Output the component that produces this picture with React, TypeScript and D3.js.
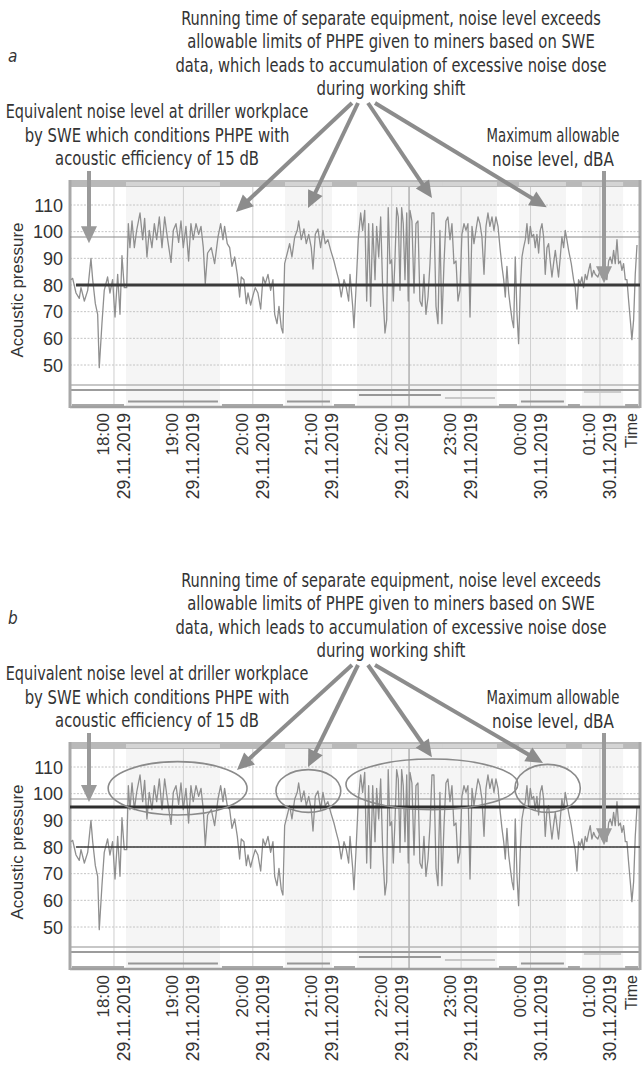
import * as d3 from "d3";
import { useLayoutEffect, useRef, useState } from "react";

// time labels under the hourly grid lines
const tickTimes = ["18:00", "19:00", "20:00", "21:00", "22:00", "23:00", "00:00", "01:00"];
const tickDates = ["29.11.2019", "29.11.2019", "29.11.2019", "29.11.2019", "29.11.2019", "29.11.2019", "30.11.2019", "30.11.2019"];
const yTicks = [50, 60, 70, 80, 90, 100, 110];

const equivalentLevel = 80; // dBA, equivalent level by SWE
const phpeLevel = 95; // level with PHPE, panel b
const refLevel = 98; // thin reference line
const markerMinute = 255; // darker vertical line (minutes after 18:00)

// noise trace: [minutes after 18:00, dBA]
const noiseTrace: [number, number][] = [
  [-37.2, 82], [-35.7, 82.5], [-32.8, 77], [-30, 75], [-28.5, 79], [-25.6, 74], [-22.7, 78], [-19.9, 90],
  [-18.4, 82], [-16.1, 73], [-14.1, 69], [-12.7, 49], [-10.4, 65.5], [-8.4, 78], [-5.5, 83], [-3.5, 77],
  [-1.2, 82], [0.9, 68], [3.2, 84], [5.2, 69], [6.9, 91], [8.9, 79], [11, 79], [12.4, 103], [13.8, 94],
  [15.6, 104], [17.6, 94], [19.6, 100.5], [22.5, 107], [24.8, 97], [26.5, 105], [28.5, 90.5], [30.5, 100.5],
  [32.8, 94], [34.9, 103], [36.9, 97], [39.2, 105.5], [41.5, 94], [43.8, 105.5], [46.4, 97], [49.3, 88.5],
  [51.3, 100.5], [53.6, 103], [55.9, 96], [57.9, 104], [59.9, 94], [62.2, 102], [64.5, 89], [66.5, 103],
  [68.5, 97], [70.9, 103], [73.2, 99], [75.2, 102], [77.2, 94], [78.9, 80.5], [80.9, 92],
  [84.1, 94], [87, 88], [89.9, 98], [92.2, 103], [94.2, 97], [95.6, 102], [97.9, 95.5], [100, 94], [102, 87],
  [104.3, 90.5], [106.6, 84], [108.6, 75.5], [110, 83], [112.3, 82], [114.4, 73], [115.8, 77], [118.1, 72.5],
  [120.1, 76], [122.1, 79], [124.4, 77], [126.8, 71], [128.8, 83], [130.8, 80.5], [133.1, 84], [135.4, 78],
  [137.4, 82], [138.9, 69], [140.9, 65.5], [142.6, 72], [144.6, 64], [146, 62], [147.5, 88], [149.8, 92],
  [151.8, 95.5], [153.8, 90.5], [156.2, 98], [158.4, 100.5], [159.6, 104], [161.9, 97], [164.2, 101],
  [166.2, 95.5], [168.3, 99], [170.5, 94], [172, 86], [174, 99], [176.3, 101], [178.6, 94], [180.6, 100.5],
  [182.6, 95.5], [184.9, 97], [187.3, 93], [190.1, 89], [192.1, 85.5], [194.2, 82], [196.4, 75.5], [198.8, 82],
  [200.8, 79], [202.8, 74],
  [204, 84], [206.3, 72], [207.4, 64], [209.1, 78], [211.1, 97], [213.2, 107], [214.9, 100.5], [216.7, 108],
  [218.4, 74], [220.1, 103], [221.8, 72], [223.6, 103], [225.6, 82], [227, 102], [228.8, 90.5], [230.5, 105.5],
  [232.2, 79], [234.2, 62], [235.7, 67], [237, 109], [238.5, 88], [240, 89.5], [241.4, 74], [242.8, 89],
  [244.3, 109], [245.7, 105.5], [247.2, 78], [248.6, 109], [250, 103], [251.5, 82], [253, 107], [254.3, 74],
  [255.8, 108], [257.5, 104], [259.3, 77], [261, 103], [262.7, 104], [264.4, 74], [266.2, 72], [267.9, 84],
  [269.6, 69], [271.4, 75.5], [273.1, 88], [274.8, 107], [276.5, 107], [278.3, 72], [280, 65.5], [281.7, 100.5],
  [283.4, 65.5], [285.2, 88], [286.9, 104], [288.6, 105.5], [290.4, 97], [292.1, 103], [293.8, 88], [295.6, 89],
  [297.3, 74], [299, 78], [300.7, 99], [302.5, 103], [304.2, 100.5], [305.9, 103], [307.7, 68], [309.4, 102],
  [311.1, 95.5], [312.8, 100.5], [314.6, 105.5], [316.3, 103], [318, 98], [319.8, 84], [321.5, 102], [323.2, 107],
  [324.9, 102], [326.7, 105.5], [328.4, 100.5],
  [330.1, 105.5], [331.9, 102], [333.6, 94], [335.3, 87], [336.8, 82], [338.2, 75.5], [339.6, 87], [341.1, 77],
  [342.5, 72], [344, 67], [345.4, 64], [346.8, 90.5], [348.3, 69], [349.7, 58], [351.1, 78], [352.6, 90.5],
  [354, 94], [355.5, 97], [356.9, 103], [358.3, 95.5], [359.8, 102], [361.2, 98], [362.7, 99], [364.1, 94],
  [365.5, 99], [367, 92], [368.4, 100.5], [369.9, 103], [371.3, 98], [372.7, 84], [374.2, 94], [375.6, 95.5],
  [377, 89], [378.5, 83], [379.9, 88], [381.4, 93], [382.8, 88], [384.2, 83], [385.7, 90.5], [387.1, 98],
  [388.6, 94], [390, 100.5], [391.4, 97], [392.9, 93], [395.2, 88], [397.2, 82], [398.6, 79], [400.1, 71],
  [401.5, 82], [403, 80.5], [404.4, 83], [405.8, 79], [407.3, 84], [408.7, 82], [410.2, 85.5], [411.6, 88],
  [413, 83], [414.5, 85.5], [415.9, 84], [418.2, 83], [420.2, 85.5], [421.7, 83], [424, 84], [426, 82],
  [427.5, 89], [428.9, 90.5], [430.4, 88], [431.8, 93], [433.2, 88], [434.7, 97], [436.1, 88], [437.6, 89],
  [439, 85.5], [440.4, 88], [441.9, 82], [443.3, 82], [444.8, 74], [446.2, 67], [447.6, 59.5], [449.1, 67],
  [450.5, 84], [452, 95],
];

// equipment states shown in the lower strip (minutes after 18:00)
const equipmentRuns = [
  { from: -38, to: 10.4, state: 0 },
  { from: 10.4, to: 91.6, state: 1 },
  { from: 91.6, to: 147.8, state: 0 },
  { from: 147.8, to: 188.4, state: 1 },
  { from: 188.4, to: 210, state: 0 },
  { from: 210, to: 284.3, state: 3 },
  { from: 284.3, to: 331, state: 2 },
  { from: 331, to: 350, state: 0 },
  { from: 350, to: 390.6, state: 1 },
  { from: 390.6, to: 404.4, state: 0 },
  { from: 404.4, to: 440, state: 4 },
  { from: 440, to: 454.6, state: 0 },
];

// excess-noise zones circled in panel b: minutes and dBA bounds
const excessZones = [
  { from: -5, to: 115, low: 92, high: 112 },
  { from: 140, to: 196, low: 93, high: 109 },
  { from: 200.5, to: 349, low: 94, high: 113 },
  { from: 346.5, to: 403, low: 93, high: 111 },
];

// arrow tips [minutes, dBA]
const tipsA: [number, number][] = [[105.4, 107.4], [167.7, 108.9], [274.8, 112.6], [374, 109.2]];
const tipsB: [number, number][] = [[106.3, 108.9], [167.7, 110], [274.8, 113.7], [370.8, 111.5]];

const runningNote = [
  "Running time of separate equipment, noise level exceeds",
  "allowable limits of PHPE given to miners based on SWE",
  "data, which leads to accumulation of excessive noise dose",
  "during working shift",
];
const equivalentNote = [
  "Equivalent noise level at driller workplace",
  "by SWE which conditions PHPE with",
  "acoustic efficiency of 15 dB",
];
const maxNote = ["Maximum allowable", "noise level, dBA"];

const W = 643;
const H = 1072;
const PANEL_GAP = 562;
const LEFT = 70;
const RIGHT = 640;
const FONT = "'Liberation Sans Narrow', 'DejaVu Sans Condensed', 'Liberation Sans', Arial, sans-serif";
const TICK_FONT = "'Liberation Sans', Arial, sans-serif";
const TEXT = "#333";
const ARROW = "#8c8c8c";

const base = new Date(2019, 10, 29, 18, 0);
const at = (m: number) => new Date(base.getTime() + m * 60000);

const x = d3.scaleTime().domain([at(-38), at(454.6)]).range([LEFT, RIGHT]);
const hourTicks = d3.range(tickTimes.length).map((h) => at(h * 60));

const stateY = [405, 401.5, 398, 395, 392];
const stateColor = ["#a8a8a8", "#979797", "#c8c8c8", "#979797", "#cccccc"];

// condensed text squeezed to a target width
function FitText({ cx, y, width, size, children }: any) {
  const ref = useRef<SVGTextElement>(null);
  const [sx, setSx] = useState(1);
  useLayoutEffect(() => {
    if (ref.current) {
      const len = ref.current.getComputedTextLength();
      if (len > 0) setSx(width / len);
    }
  }, [width]);
  return (
    <text
      ref={ref}
      transform={`translate(${cx},${y}) scale(${sx},1)`}
      textAnchor="middle"
      fontFamily={FONT}
      fontSize={size}
      fill={TEXT}
    >
      {children}
    </text>
  );
}

function Arrow({ x1, y1, x2, y2, color = ARROW, width = 4 }: any) {
  const len = Math.hypot(x2 - x1, y2 - y1);
  const ux = (x2 - x1) / len;
  const uy = (y2 - y1) / len;
  const hl = 17;
  const hw = 8;
  const bx = x2 - ux * hl;
  const by = y2 - uy * hl;
  const pts = [
    [x2, y2],
    [bx - uy * hw, by + ux * hw],
    [bx + uy * hw, by - ux * hw],
  ];
  return (
    <g>
      <line x1={x1} y1={y1} x2={bx + ux} y2={by + uy} stroke={color} strokeWidth={width} />
      <polygon points={pts.map((p) => p.join(",")).join(" ")} fill={color} />
    </g>
  );
}

function Panel({ dy, variant }: { dy: number; variant: "a" | "b" }) {
  const y = d3.scaleLinear().domain([50, 110]).range([365 + dy, 205 + dy]);
  const top = 180 + dy;
  const plotBottom = 385 + dy;
  const stripTop = 390 + dy;
  const bottom = 407 + dy;
  const line = d3
    .line<[number, number]>()
    .x((d) => x(at(d[0])))
    .y((d) => y(d[1]));

  const tips = variant === "a" ? tipsA : tipsB;
  const origins = [352, 358, 368, 375];

  return (
    <g>
      <text x={8} y={62 + dy} fontFamily={FONT} fontStyle="italic" fontSize={17} fill={TEXT}>
        {variant}
      </text>
      {runningNote.map((t, i) => (
        <FitText key={t} cx={391} y={25 + dy + i * 23.4} size={19} width={[420, 408, 431, 149][i]}>
          {t}
        </FitText>
      ))}
      {equivalentNote.map((t, i) => (
        <FitText key={t} cx={157} y={118 + dy + i * 23.6} size={19} width={[303, 265, 204][i]}>
          {t}
        </FitText>
      ))}
      {maxNote.map((t, i) => (
        <FitText key={t} cx={553} y={142 + dy + i * 23.6} size={19} width={[133, 122][i]}>
          {t}
        </FitText>
      ))}

      {/* plot frame and state shading */}
      <rect x={LEFT} y={top} width={RIGHT - LEFT} height={bottom - top} fill="#fff" />
      {equipmentRuns
        .filter((r) => r.state > 0)
        .map((r, i) => (
          <rect
            key={i}
            x={x(at(r.from))}
            y={top}
            width={x(at(r.to)) - x(at(r.from))}
            height={bottom - top}
            fill="#f5f5f5"
          />
        ))}
      <rect x={LEFT} y={top} width={RIGHT - LEFT} height={7} fill="#b9b9b9" />
      {equipmentRuns
        .filter((r) => r.state > 0)
        .map((r, i) => (
          <rect
            key={"tb" + i}
            x={x(at(r.from))}
            y={top + 2}
            width={x(at(r.to)) - x(at(r.from))}
            height={4}
            fill="#d4d4d4"
          />
        ))}

      {/* grid */}
      {yTicks.map((v) => (
        <line key={v} x1={LEFT} x2={RIGHT} y1={y(v)} y2={y(v)} stroke="#c4c4c4" strokeWidth={1} strokeDasharray="2,1.5" />
      ))}
      {hourTicks.map((t, i) => (
        <line key={i} x1={x(t)} x2={x(t)} y1={top + 7} y2={bottom} stroke="#cfcfcf" strokeWidth={1} />
      ))}
      <line x1={x(at(markerMinute))} x2={x(at(markerMinute))} y1={top + 7} y2={bottom} stroke="#8e8e8e" strokeWidth={1} />

      {/* strip */}
      <line x1={LEFT} x2={RIGHT} y1={plotBottom} y2={plotBottom} stroke="#b5b5b5" strokeWidth={1.5} />
      <line x1={LEFT} x2={RIGHT} y1={stripTop} y2={stripTop} stroke="#9c9c9c" strokeWidth={2} />
      {equipmentRuns.map((r, i) => (
        <line
          key={"s" + i}
          x1={x(at(r.from)) + 2}
          x2={x(at(r.to)) - 2}
          y1={stateY[r.state] + dy}
          y2={stateY[r.state] + dy}
          stroke={stateColor[r.state]}
          strokeWidth={2}
        />
      ))}
      <line x1={LEFT} x2={RIGHT} y1={bottom} y2={bottom} stroke="#a0a0a0" strokeWidth={2.5} />
      <line x1={LEFT} x2={LEFT} y1={top} y2={bottom + 1} stroke="#a8a8a8" strokeWidth={3} />
      <line x1={RIGHT} x2={RIGHT} y1={top} y2={bottom + 1} stroke="#a8a8a8" strokeWidth={3} />

      {/* reference levels */}
      <line x1={LEFT} x2={RIGHT} y1={y(refLevel)} y2={y(refLevel)} stroke="#8a8a8a" strokeWidth={1.2} />
      <path d={line(noiseTrace) || ""} fill="none" stroke="#8f8f8f" strokeWidth={1.3} strokeLinejoin="round" />
      {variant === "a" ? (
        <line x1={LEFT + 6} x2={RIGHT} y1={y(equivalentLevel)} y2={y(equivalentLevel)} stroke="#3a3a3a" strokeWidth={3} />
      ) : (
        <>
          <line x1={LEFT + 6} x2={RIGHT} y1={y(equivalentLevel)} y2={y(equivalentLevel)} stroke="#3a3a3a" strokeWidth={1.6} />
          <line x1={LEFT} x2={RIGHT} y1={y(phpeLevel)} y2={y(phpeLevel)} stroke="#2e2e2e" strokeWidth={3} />
          {excessZones.map((z, i) => {
            const x0 = x(at(z.from));
            const x1 = x(at(z.to));
            const y0 = y(z.high);
            const y1 = y(z.low);
            return (
              <ellipse
                key={"e" + i}
                cx={(x0 + x1) / 2}
                cy={(y0 + y1) / 2}
                rx={(x1 - x0) / 2}
                ry={(y1 - y0) / 2}
                fill="none"
                stroke="#8a8a8a"
                strokeWidth={1.6}
              />
            );
          })}
        </>
      )}

      {/* y axis */}
      {yTicks.map((v) => (
        <text key={"yt" + v} x={63} y={y(v) + 6.5} textAnchor="end" fontFamily={TICK_FONT} fontSize={18} fill={TEXT}>
          {v}
        </text>
      ))}
      <text
        transform={`translate(23,${290 + dy}) rotate(-90)`}
        textAnchor="middle"
        fontFamily={TICK_FONT}
        fontSize={17}
        fill={TEXT}
      >
        Acoustic pressure
      </text>

      {/* x axis */}
      {hourTicks.map((t, i) => (
        <g key={"xt" + i}>
          <text
            transform={`translate(${x(t) - 5},${413 + dy}) rotate(-90)`}
            textAnchor="end"
            fontFamily={TICK_FONT}
            fontSize={17}
            fill={TEXT}
          >
            {tickTimes[i]}
          </text>
          <text
            transform={`translate(${x(t) + 16},${413 + dy}) rotate(-90)`}
            textAnchor="end"
            fontFamily={TICK_FONT}
            fontSize={17.5}
            fill={TEXT}
          >
            {tickDates[i]}
          </text>
        </g>
      ))}
      <text
        transform={`translate(637,${413 + dy}) rotate(-90)`}
        textAnchor="end"
        fontFamily={TICK_FONT}
        fontSize={16}
        fill={TEXT}
      >
        Time
      </text>

      {/* arrows */}
      {tips.map((p, i) => (
        <Arrow key={"a" + i} x1={origins[i]} y1={103 + dy} x2={x(at(p[0]))} y2={y(p[1])} />
      ))}
      <Arrow x1={x(at(-21.6))} y1={171 + dy} x2={x(at(-21.6))} y2={y(variant === "a" ? 95.7 : 96.9)} color="#9a9a9a" />
      <Arrow x1={x(at(423.5))} y1={171 + dy} x2={x(at(423.5))} y2={y(80.7)} color="#9a9a9a" />
    </g>
  );
}

export default function App() {
  return (
    <svg
      width={W}
      height={H}
      viewBox={`0 0 ${W} ${H}`}
      style={{ position: "absolute", left: 0, top: 0, background: "#fff" }}
    >
      <rect width={W} height={H} fill="#fff" />
      <Panel dy={0} variant="a" />
      <Panel dy={PANEL_GAP} variant="b" />
    </svg>
  );
}
